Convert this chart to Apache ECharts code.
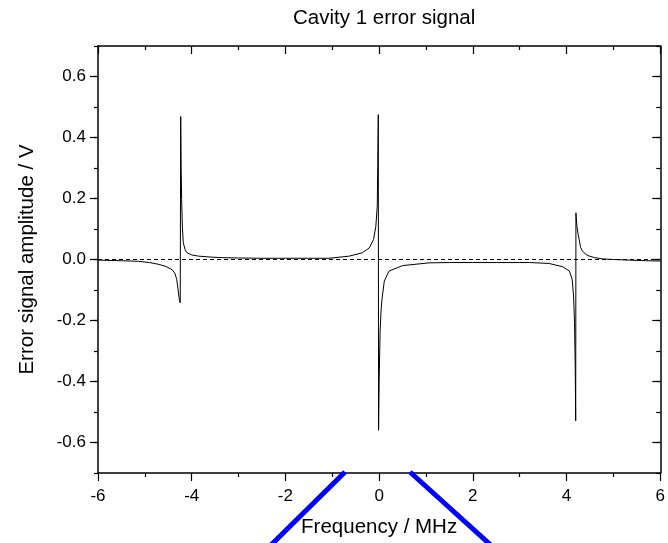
<!DOCTYPE html>
<html>
<head>
<meta charset="utf-8">
<script src="https://cdn.jsdelivr.net/npm/echarts@6/dist/echarts.min.js"></script>
<style>html,body{margin:0;padding:0;background:#fff}#chart{width:668px;height:543px}</style>
</head>
<body>
<div id="chart"></div>
<script>
// ---- data ----
const freqMHz = [-6.0,-5.5,-5.13,-4.9,-4.7,-4.55,-4.42,-4.36,-4.32,-4.29,-4.265,-4.245,-4.235,-4.225,-4.215,-4.20,-4.18,-4.14,-4.10,-4.0,-3.85,-3.6,-3.35,-3.0,-2.5,-2.0,-1.5,-1.07,-0.64,-0.36,-0.21,-0.12,-0.07,-0.04,-0.03,-0.018,-0.012,0.0,0.02,0.04,0.06,0.11,0.21,0.5,1.07,1.5,2.0,2.5,3.0,3.21,3.63,3.92,4.06,4.12,4.15,4.17,4.185,4.195,4.20,4.22,4.25,4.27,4.30,4.34,4.42,4.49,4.6,4.77,5.0,5.34,5.7,6.0];
const errorV  = [-0.002,-0.004,-0.006,-0.010,-0.016,-0.023,-0.033,-0.045,-0.065,-0.10,-0.13,-0.142,0.469,0.30,0.197,0.11,0.055,0.032,0.022,0.015,0.011,0.008,0.006,0.005,0.004,0.004,0.004,0.004,0.011,0.022,0.038,0.065,0.109,0.175,0.305,0.475,-0.56,-0.40,-0.24,-0.17,-0.131,-0.071,-0.038,-0.020,-0.011,-0.010,-0.010,-0.010,-0.010,-0.010,-0.013,-0.024,-0.038,-0.065,-0.12,-0.207,-0.35,-0.529,0.153,0.11,0.08,0.065,0.04,0.027,0.016,0.011,0.006,0.002,0.0,-0.002,-0.004,-0.005];
const yMajorTicks = [-0.6,-0.4,-0.2,0.0,0.2,0.4,0.6];
const titleText = 'Cavity 1 error signal';
const xName = 'Frequency / MHz';
const yName = 'Error signal amplitude / V';

const seriesData = freqMHz.map((f, i) => [f, errorV[i]]);

const FONT = 'Liberation Sans, Arial, sans-serif';
const axisLine = { show: true, onZero: false, lineStyle: { color: '#000', width: 1.5 } };
const noLine = { show: false, onZero: false };
const tickStyle = { color: '#000', width: 1.2 };
const MAJ = 8, MIN = 4;

const chart = echarts.init(document.getElementById('chart'), null, { renderer: 'canvas' });
chart.setOption({
  backgroundColor: '#fff',
  animation: false,
  title: {
    text: titleText, left: 288, top: 3,
    textStyle: { fontFamily: FONT, fontSize: 20.5, fontWeight: 'normal', color: '#000' }
  },
  grid: { left: 98, right: 7, top: 46, bottom: 69, containLabel: false },
  xAxis: [
    {
      type: 'value', position: 'bottom', min: -6, max: 6, interval: 2,
      axisLine: axisLine,
      axisTick: { show: true, inside: false, length: MAJ, lineStyle: tickStyle },
      minorTick: { show: true, splitNumber: 2, length: MIN, lineStyle: tickStyle },
      axisLabel: { fontFamily: FONT, fontSize: 17, color: '#000', margin: 15 },
      splitLine: { show: false },
      name: xName, nameLocation: 'middle', nameGap: 44,
      nameTextStyle: { fontFamily: FONT, fontSize: 20.5, color: '#000' }
    },
    {
      type: 'value', position: 'top', min: -6, max: 6, interval: 2,
      axisLine: axisLine,
      axisTick: { show: true, inside: true, length: MAJ, lineStyle: tickStyle },
      minorTick: { show: true, splitNumber: 2, length: MIN, lineStyle: tickStyle },
      axisLabel: { show: false },
      splitLine: { show: false }
    }
  ],
  yAxis: [
    {
      type: 'value', position: 'left', min: -0.7, max: 0.7, interval: 0.1,
      axisLine: axisLine,
      axisTick: { show: true, inside: false, length: MIN, lineStyle: tickStyle },
      axisLabel: { show: false },
      splitLine: { show: false },
      name: yName, nameLocation: 'middle', nameGap: 60, nameRotate: 90,
      nameTextStyle: { fontFamily: FONT, fontSize: 20.5, color: '#000' }
    },
    {
      type: 'value', position: 'left', min: -0.7, max: 0.7,
      axisLine: noLine,
      axisTick: { show: true, inside: false, length: MAJ, lineStyle: tickStyle, customValues: yMajorTicks },
      axisLabel: {
        fontFamily: FONT, fontSize: 17, color: '#000', margin: 12, customValues: yMajorTicks,
        formatter: v => v.toFixed(1)
      },
      splitLine: { show: false }
    },
    {
      type: 'value', position: 'right', min: -0.7, max: 0.7, interval: 0.1,
      axisLine: axisLine,
      axisTick: { show: true, inside: true, length: MIN, lineStyle: tickStyle },
      axisLabel: { show: false },
      splitLine: { show: false }
    },
    {
      type: 'value', position: 'right', min: -0.7, max: 0.7,
      axisLine: noLine,
      axisTick: { show: true, inside: true, length: MAJ, lineStyle: tickStyle, customValues: yMajorTicks },
      axisLabel: { show: false, customValues: yMajorTicks },
      splitLine: { show: false }
    }
  ],
  series: [
    {
      type: 'line', xAxisIndex: 0, yAxisIndex: 0,
      data: seriesData, showSymbol: false, symbol: 'none', smooth: false,
      lineStyle: { color: '#000', width: 1 },
      markLine: {
        silent: true, symbol: 'none', label: { show: false },
        lineStyle: { color: '#000', width: 1, type: [4, 3] },
        data: [{ yAxis: 0 }]
      }
    }
  ],
  graphic: [
    { type: 'line', z: 100, shape: { x1: 345, y1: 472, x2: 268, y2: 548 }, style: { stroke: '#0000FF', lineWidth: 5 } },
    { type: 'line', z: 100, shape: { x1: 410, y1: 472, x2: 494, y2: 548 }, style: { stroke: '#0000FF', lineWidth: 5 } }
  ]
});
</script>
</body>
</html>
